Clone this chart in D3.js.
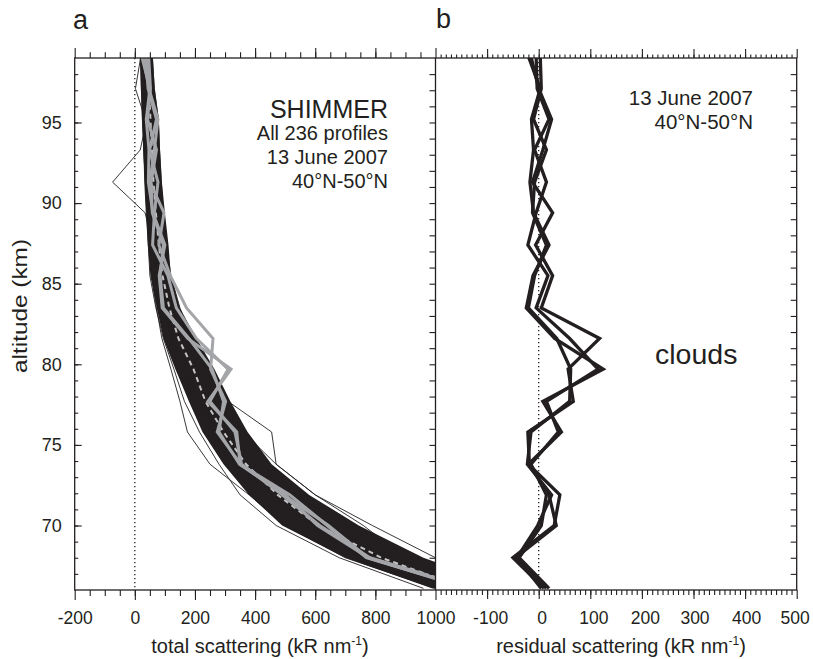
<!DOCTYPE html>
<html>
<head>
<meta charset="utf-8">
<script src="https://cdn.jsdelivr.net/npm/d3@7/dist/d3.min.js"></script>
<style>
  body { margin: 0; background: #fff; }
  svg { display: block; }
  text { font-family: "Liberation Sans", Arial, sans-serif; fill: #231f20; }
</style>
</head>
<body>
<svg id="chart" width="813" height="659"></svg>
<script>
// altitude levels of the profiles (km)
var altitudes = [66.1, 68.0, 70.0, 71.9, 73.8, 75.8, 77.7, 79.7, 81.6, 83.5, 85.5, 87.4, 89.4, 91.3, 93.3, 95.2, 97.1, 99.1];

// envelope of the 236 profiles (kR/nm)
var bandLow  = [990, 700, 490, 380, 295, 225, 180, 135, 95, 73, 52, 43, 38, 33, 28, 24, 20, 18];
var bandHigh = [1250, 960, 745, 580, 455, 375, 318, 265, 205, 150, 120, 112, 100, 90, 84, 80, 66, 60];
var meanProfile = [1100, 820, 610, 475, 370, 295, 235, 195, 145, 115, 92, 80, 70, 62, 57, 52, 47, 43];

// individual thin profiles that stick out of the band
var thin1  = [1020, 720, 520, 400, 320, 250, 205, 160, 120, 90, 70, 60, 34, -74, 18, 40, 30, 25];
var thin2  = [1200, 850, 640, 480, 380, 290, 215, 170, 125, 95, 75, 62, 55, 45, 40, 35, 2, 20];
var thin3  = [1150, 900, 760, 600, 470, 455, 310, 260, 190, 140, 110, 95, 85, 75, 70, 65, 55, 50];
var thin4  = [1250, 1000, 790, 600, 470, 360, 290, 240, 180, 140, 105, 100, 92, 82, 80, 70, 60, 55];
var thin5  = [960, 680, 470, 350, 280, 215, 165, 130, 95, 70, 50, 45, 38, 33, 30, 25, 22, 18];
var thin6  = [1000, 700, 500, 380, 250, 175, 150, 120, 90, 72, 55, 48, 40, 35, 30, 28, 25, 20];
var thin7  = [1080, 760, 560, 430, 330, 260, 200, 150, 100, 80, 60, 50, 45, 40, 35, 30, 30, 30];
var thin8  = [1180, 880, 700, 540, 420, 340, 280, 230, 190, 150, 120, 105, 95, 88, 82, 78, 65, 58];
var thin9  = [1040, 740, 580, 450, 340, 270, 215, 175, 130, 105, 85, 70, 62, 55, 50, 46, 40, 38];
var thin10 = [1130, 800, 660, 520, 400, 310, 260, 215, 160, 125, 100, 88, 78, 70, 64, 58, 52, 48];
var thin11 = [1060, 780, 600, 420, 360, 285, 195, 160, 150, 135, 112, 90, 80, 66, 60, 56, 50, 44];
var thinProfiles = [thin1, thin2, thin3, thin4, thin5, thin6, thin7, thin8, thin9, thin10, thin11];

// the four cloud profiles, total scattering (panel a, grey)
var cloudTotal1 = [1115, 775, 644, 495, 352, 274, 302, 252, 260, 172, 118, 80, 97, 50, 65, 77, 47, 28];
var cloudTotal2 = [1110, 770, 640, 516, 350, 339, 243, 320, 176, 91, 81, 100, 60, 45, 47, 38, 50, 23];
var cloudTotal3 = [1120, 782, 615, 490, 355, 333, 250, 310, 205, 138, 110, 59, 65, 77, 49, 72, 44, 38];
var cloudTotal4 = [1105, 778, 608, 500, 348, 280, 295, 257, 180, 95, 84, 95, 58, 54, 72, 42, 52, 46];
var cloudTotals = [cloudTotal1, cloudTotal2, cloudTotal3, cloudTotal4];

// residual scattering of the same four profiles (panel b)
var resid1 = [15, -45, 34, 20, -18, -21, 67, 57, 118, 5, 27, -6, 27, -12, 8, 25, 0, -15];
var resid2 = [10, -50, 30, 41, -20, 44, 8, 125, 31, -24, -11, 20, -10, -17, -10, -14, 3, -20];
var resid3 = [20, -38, 5, 15, -15, 38, 15, 115, 60, -5, 18, -21, -5, 15, -8, 20, -3, -5];
var resid4 = [5, -42, -2, 25, -22, -15, 60, 62, 35, -20, -8, 15, -12, -8, 15, -10, 5, 3];
var residuals = [resid1, resid2, resid3, resid4];

var xTicksA = [-200, 0, 200, 400, 600, 800, 1000];
var xTicksB = [-100, 0, 100, 200, 300, 400, 500];
var yTicks = [70, 75, 80, 85, 90, 95];

var ink = '#231f20';
var svg = d3.select('#chart');
var plain = function(d) { return String(d); };

var plotTop = 58, plotBottom = 590;
var xA = d3.scaleLinear().domain([-200, 1000]).range([74.7, 435.5]);
var xB = d3.scaleLinear().domain([-200, 500]).range([435.5, 796.7]);
var y = d3.scaleLinear().domain([66, 99]).range([plotBottom, plotTop]);

var defs = svg.append('defs');
defs.append('clipPath').attr('id', 'clipA').append('rect')
    .attr('x', xA(-200)).attr('y', plotTop).attr('width', xA(1000) - xA(-200)).attr('height', plotBottom - plotTop);
defs.append('clipPath').attr('id', 'clipB').append('rect')
    .attr('x', xB(-200)).attr('y', plotTop).attr('width', xB(500) - xB(-200)).attr('height', plotBottom - plotTop);

function lineFor(xs) {
    return d3.line()
        .x(function(d) { return xs(d[0]); })
        .y(function(d) { return y(d[1]); });
}
function pairs(vals) {
    return vals.map(function(v, i) { return [v, altitudes[i]]; });
}

// ---- panel a
var gA = svg.append('g').attr('clip-path', 'url(#clipA)');

gA.append('line')
    .attr('x1', xA(0)).attr('x2', xA(0)).attr('y1', plotTop).attr('y2', plotBottom)
    .attr('stroke', ink).attr('stroke-width', 1.3).attr('stroke-dasharray', '1.3,2.7');

var band = d3.area()
    .y(function(d, i) { return y(altitudes[i]); })
    .x0(function(d, i) { return xA(bandLow[i]); })
    .x1(function(d, i) { return xA(bandHigh[i]); });
gA.append('path').datum(altitudes).attr('d', band).attr('fill', ink);

thinProfiles.forEach(function(p) {
    gA.append('path').datum(pairs(p)).attr('d', lineFor(xA))
        .attr('fill', 'none').attr('stroke', ink).attr('stroke-width', 0.9);
});

gA.append('path').datum(pairs(meanProfile)).attr('d', lineFor(xA))
    .attr('fill', 'none').attr('stroke', '#c4c4c6').attr('stroke-width', 2)
    .attr('stroke-dasharray', '5,4');

cloudTotals.forEach(function(p) {
    gA.append('path').datum(pairs(p)).attr('d', lineFor(xA))
        .attr('fill', 'none').attr('stroke', '#a4a5a8').attr('stroke-width', 3)
        .attr('stroke-linejoin', 'miter');
});

// ---- panel b
var gB = svg.append('g').attr('clip-path', 'url(#clipB)');
gB.append('line')
    .attr('x1', xB(0)).attr('x2', xB(0)).attr('y1', plotTop).attr('y2', plotBottom)
    .attr('stroke', ink).attr('stroke-width', 1.3).attr('stroke-dasharray', '1.3,2.7');

residuals.forEach(function(p) {
    gB.append('path').datum(pairs(p)).attr('d', lineFor(xB))
        .attr('fill', 'none').attr('stroke', ink).attr('stroke-width', 3.3)
        .attr('stroke-linejoin', 'miter');
});

// ---- axes
function styleAxis(g) {
    g.select('.domain').remove();
    g.selectAll('line').attr('stroke', ink).attr('stroke-width', 1.1);
    g.selectAll('text').style('font-size', '17.5px').attr('fill', ink);
}

// left, panel a
svg.append('g').attr('transform', 'translate(' + xA(-200) + ',0)')
    .call(d3.axisLeft(y).tickValues(d3.range(67, 99)).tickSize(-3.5).tickFormat(''))
    .call(styleAxis);
svg.append('g').attr('transform', 'translate(' + xA(-200) + ',0)')
    .call(d3.axisLeft(y).tickValues(yTicks).tickSize(-7).tickPadding(13).tickFormat(plain))
    .call(styleAxis)
    .selectAll('text').style('font-size', '18px');

// right of panel a and right of panel b
[xA(1000), xB(500)].forEach(function(px) {
    svg.append('g').attr('transform', 'translate(' + px + ',0)')
        .call(d3.axisLeft(y).tickValues(d3.range(67, 99)).tickSize(6).tickFormat(''))
        .call(styleAxis);
});

// top and bottom, panel a
svg.append('g').attr('transform', 'translate(0,' + plotTop + ')')
    .call(d3.axisTop(xA).tickValues(d3.range(-150, 1000, 50)).tickSize(5.7).tickFormat(''))
    .call(styleAxis);
svg.append('g').attr('transform', 'translate(0,' + plotTop + ')')
    .call(d3.axisTop(xA).tickValues(xTicksA).tickSize(10).tickFormat(''))
    .call(styleAxis);
svg.append('g').attr('transform', 'translate(0,' + plotBottom + ')')
    .call(d3.axisBottom(xA).tickValues(d3.range(-150, 1000, 50)).tickSize(6).tickFormat(''))
    .call(styleAxis);
svg.append('g').attr('transform', 'translate(0,' + plotBottom + ')')
    .call(d3.axisBottom(xA).tickValues(xTicksA).tickSize(10).tickPadding(11.5).tickFormat(plain))
    .call(styleAxis);

// top and bottom, panel b
svg.append('g').attr('transform', 'translate(0,' + plotTop + ')')
    .call(d3.axisTop(xB).tickValues(d3.range(-190, 500, 10)).tickSize(3.5).tickFormat(''))
    .call(styleAxis);
svg.append('g').attr('transform', 'translate(0,' + plotTop + ')')
    .call(d3.axisTop(xB).tickValues(d3.range(-100, 501, 100)).tickSize(9).tickFormat(''))
    .call(styleAxis);
svg.append('g').attr('transform', 'translate(0,' + plotBottom + ')')
    .call(d3.axisBottom(xB).tickValues(d3.range(-190, 500, 10)).tickSize(5).tickFormat(''))
    .call(styleAxis);
svg.append('g').attr('transform', 'translate(0,' + plotBottom + ')')
    .call(d3.axisBottom(xB).tickValues(xTicksB).tickSize(9).tickPadding(12.5).tickFormat(plain))
    .call(styleAxis)
    .selectAll('text').attr('dx', function(d) { return d < 300 ? 3 : (d === 500 ? -2 : 1); });

// frames
svg.append('rect').attr('x', xA(-200)).attr('y', plotTop)
    .attr('width', xB(500) - xA(-200)).attr('height', plotBottom - plotTop)
    .attr('fill', 'none').attr('stroke', ink).attr('stroke-width', 1.3);
svg.append('line').attr('x1', xA(1000)).attr('x2', xA(1000)).attr('y1', plotTop).attr('y2', plotBottom)
    .attr('stroke', ink).attr('stroke-width', 1.3);

// ---- texts
svg.append('text').attr('x', 73).attr('y', 29).style('font-size', '27px').text('a');
svg.append('text').attr('x', 436).attr('y', 28).style('font-size', '27px').text('b');

function title(x, yPos, label) {
    var t = svg.append('text').attr('x', x).attr('y', yPos).attr('text-anchor', 'middle')
        .style('font-size', '20px');
    t.append('tspan').text(label + ' (kR nm');
    t.append('tspan').attr('dy', -8).style('font-size', '12px').text('-1');
    t.append('tspan').attr('dy', 8).text(')');
    return t;
}
title(260, 653, 'total scattering');
title(621, 653, 'residual scattering');

svg.append('text').attr('transform', 'translate(27,306) rotate(-90)')
    .attr('text-anchor', 'middle').style('font-size', '20px')
    .attr('textLength', 134).attr('lengthAdjust', 'spacingAndGlyphs')
    .text('altitude (km)');

var notesA = [['SHIMMER', 118, 25], ['All 236 profiles', 140, 20], ['13 June 2007', 164, 20], ['40\u00b0N-50\u00b0N', 188, 20]];
notesA.forEach(function(n) {
    svg.append('text').attr('x', 388).attr('y', n[1]).attr('text-anchor', 'end')
        .style('font-size', n[2] + 'px').text(n[0]);
});
var notesB = [['13 June 2007', 105], ['40\u00b0N-50\u00b0N', 129]];
notesB.forEach(function(n) {
    svg.append('text').attr('x', 753).attr('y', n[1]).attr('text-anchor', 'end')
        .style('font-size', '20.5px').text(n[0]);
});
svg.append('text').attr('x', 655).attr('y', 364).style('font-size', '28.5px').text('clouds');
</script>
</body>
</html>
